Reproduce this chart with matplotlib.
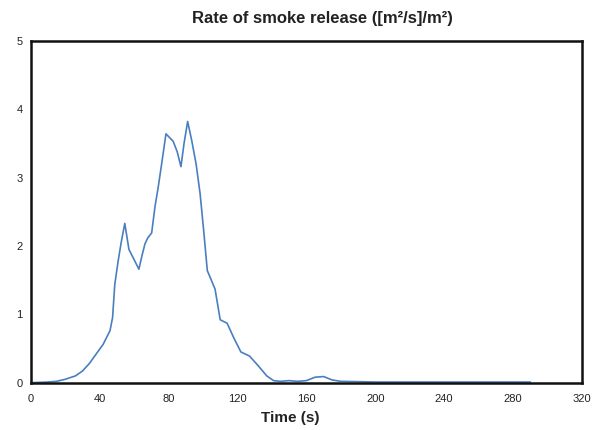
import matplotlib
matplotlib.use("Agg")
import matplotlib.pyplot as plt

plt.rcParams['font.family'] = ['Liberation Sans', 'DejaVu Sans']

time_s = [0, 10, 15, 20, 26, 30, 34, 38, 42, 46, 47.5, 48.8, 50.8, 52.5, 54.6, 57, 60, 62.8,
          64.5, 66.3, 68, 70.2, 72.1, 74, 76, 78.5, 82.7, 85, 87.2, 89, 91.1, 93.4, 96,
          98.3, 100.5, 102.5, 107, 110, 114, 118, 122, 127, 132, 137, 141, 145, 150, 155,
          160, 165, 170, 175, 180, 200, 240, 290]
smoke = [0, 0.01, 0.02, 0.05, 0.1, 0.17, 0.28, 0.42, 0.56, 0.76, 0.95, 1.44, 1.79, 2.05, 2.33,
         1.95, 1.8, 1.66, 1.85, 2.03, 2.12, 2.19, 2.57, 2.86, 3.2, 3.64, 3.53, 3.38, 3.16, 3.5,
         3.82, 3.55, 3.2, 2.77, 2.2, 1.64, 1.37, 0.92, 0.87, 0.65, 0.45, 0.39, 0.25, 0.1, 0.03,
         0.02, 0.03, 0.02, 0.03, 0.08, 0.09, 0.04, 0.02, 0.01, 0.01, 0.01]

xticks = [0, 40, 80, 120, 160, 200, 240, 280, 320]
yticks = [0, 1, 2, 3, 4, 5]

fig = plt.figure(figsize=(6.03, 4.30), dpi=100)
ax = fig.add_axes([0.051, 0.110, 0.914, 0.795])
ax.plot(time_s, smoke, color="#4a7fbf", linewidth=1.2)
ax.set_xlim(0, 320)
ax.set_ylim(0, 5)
ax.set_xticks(xticks)
ax.set_yticks(yticks)
ax.tick_params(axis="both", length=0, labelsize=8, labelcolor="#222222")
ax.tick_params(axis="x", pad=8)
ax.tick_params(axis="y", pad=6)
for s in ax.spines.values():
    s.set_linewidth(1.8)
    s.set_color("#111111")
fig.text(0.534, 0.956, "Rate of smoke release ([m²/s]/m²)", fontsize=12, fontweight="bold",
         color="#222222", ha="center", va="center")
fig.text(0.481, 0.028, "Time (s)", fontsize=11, fontweight="bold",
         color="#222222", ha="center", va="center")
fig.savefig("out.png", dpi=100)
